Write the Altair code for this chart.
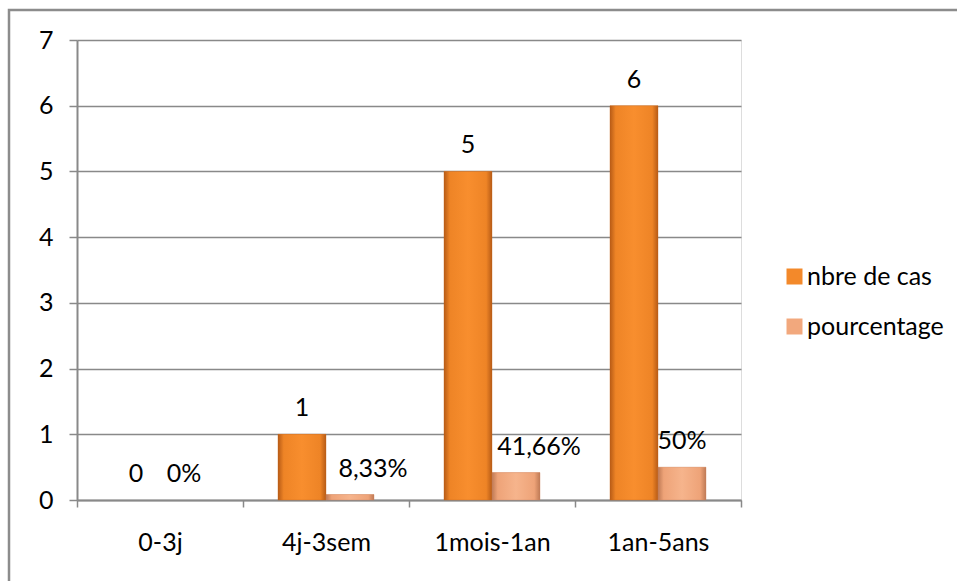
import altair as alt
import pandas as pd

# Age groups and the two series shown for each
categories = ["0-3j", "4j-3sem", "1mois-1an", "1an-5ans"]
nbre_cas = [0, 1, 5, 6]
pourcentage = [0.0, 0.0833, 0.4166, 0.50]
series = ["nbre de cas", "pourcentage"]

FONT = "Lato"
FS = 25
GRID = "#898989"


def pct_label(v):
    s = f"{v * 100:.2f}".rstrip("0").rstrip(".")
    return s.replace(".", ",") + "%"


rows = []
for c, n, p in zip(categories, nbre_cas, pourcentage):
    rows.append({"cat": c, "serie": series[0], "val": n, "label": str(n)})
    rows.append({"cat": c, "serie": series[1], "val": p, "label": pct_label(p)})
df = pd.DataFrame(rows)

x_enc = alt.X(
    "cat:N",
    sort=categories,
    scale=alt.Scale(paddingInner=0, paddingOuter=0),
    axis=alt.Axis(
        title=None,
        tickBand="extent",
        tickSize=7,
        tickColor=GRID,
        tickWidth=1.5,
        domainColor=GRID,
        domainWidth=2,
        labelAngle=0,
        labelFont=FONT,
        labelFontSize=FS,
        labelColor="black",
        labelPadding=23,
        grid=False,
    ),
)
xoff = alt.XOffset("serie:N", sort=series, scale=alt.Scale(paddingInner=0, paddingOuter=0.729))
y_enc = alt.Y(
    "val:Q",
    scale=alt.Scale(domain=[0, 7], nice=False),
    axis=alt.Axis(
        title=None,
        values=list(range(8)),
        format="d",
        tickSize=8,
        tickColor=GRID,
        tickWidth=1.5,
        domainColor=GRID,
        domainWidth=2,
        gridColor=GRID,
        gridWidth=1.5,
        labelFont=FONT,
        labelFontSize=FS,
        labelColor="black",
        labelPadding=16,
    ),
)

base = alt.Chart(df)

# Flat bars carrying the legend
bars = base.mark_bar().encode(
    x=x_enc,
    xOffset=xoff,
    y=y_enc,
    color=alt.Color(
        "serie:N",
        sort=series,
        scale=alt.Scale(domain=series, range=["#F3892A", "#F2A87D"]),
        legend=alt.Legend(
            title=None,
            orient="none",
            legendX=705,
            legendY=224,
            symbolType="square",
            symbolSize=256,
            symbolStrokeWidth=0,
            labelFont=FONT,
            labelFontSize=FS,
            labelColor="black",
            rowPadding=24,
            labelOffset=0,
        ),
    ),
)


def shaded(serie, edge, mid, centre, top):
    grad = alt.LinearGradient(
        gradient="linear",
        x1=0, x2=1, y1=0, y2=0,
        stops=[
            alt.GradientStop(offset=0, color=edge),
            alt.GradientStop(offset=0.12, color=mid),
            alt.GradientStop(offset=0.5, color=centre),
            alt.GradientStop(offset=0.88, color=mid),
            alt.GradientStop(offset=1, color=edge),
        ],
    )
    return base.transform_filter(
        (alt.datum.serie == serie) & (alt.datum.val > 0)
    ).mark_bar(
        color=grad, stroke=top, strokeWidth=0.6, strokeOpacity=0.6
    ).encode(x=alt.X("cat:N", sort=categories), xOffset=xoff, y="val:Q")


shade_n = shaded(series[0], "#B75B16", "#EE8426", "#F88E2E", "#C8661C")
shade_p = shaded(series[1], "#BF7A55", "#EEA378", "#F6B48C", "#C9855E")

text_common = dict(font=FONT, fontSize=FS, color="black", baseline="bottom", dy=-13)
labels_main = base.transform_filter(
    "datum.serie == 'nbre de cas' || datum.val == 0 || datum.val >= 0.5"
).mark_text(**text_common).encode(
    x=alt.X("cat:N", sort=categories), xOffset=xoff, y="val:Q", text="label:N"
)
labels_shift = base.transform_filter(
    "datum.serie == 'pourcentage' && datum.val > 0 && datum.val < 0.5"
).mark_text(dx=23, **text_common).encode(
    x=alt.X("cat:N", sort=categories), xOffset=xoff, y="val:Q", text="label:N"
)

# Outer frame around the whole figure
frame = alt.Chart(alt.Data(values=[{"k": 1}])).mark_rect(
    fill=None, stroke="#8c8c8c", strokeWidth=2.5
).encode(
    x=alt.value(-68), x2=alt.value(1000), y=alt.value(-30), y2=alt.value(700)
)

chart = alt.layer(frame, bars, shade_n, shade_p, labels_main, labels_shift).properties(
    width=664,
    height=460,
    autosize=alt.AutoSizeParams(type="none"),
    padding={"left": 77, "top": 40, "right": 216, "bottom": 81},
).configure_view(stroke=None).configure(background="white")

chart.save("out.html", embed_options={"renderer": "svg", "actions": False})
